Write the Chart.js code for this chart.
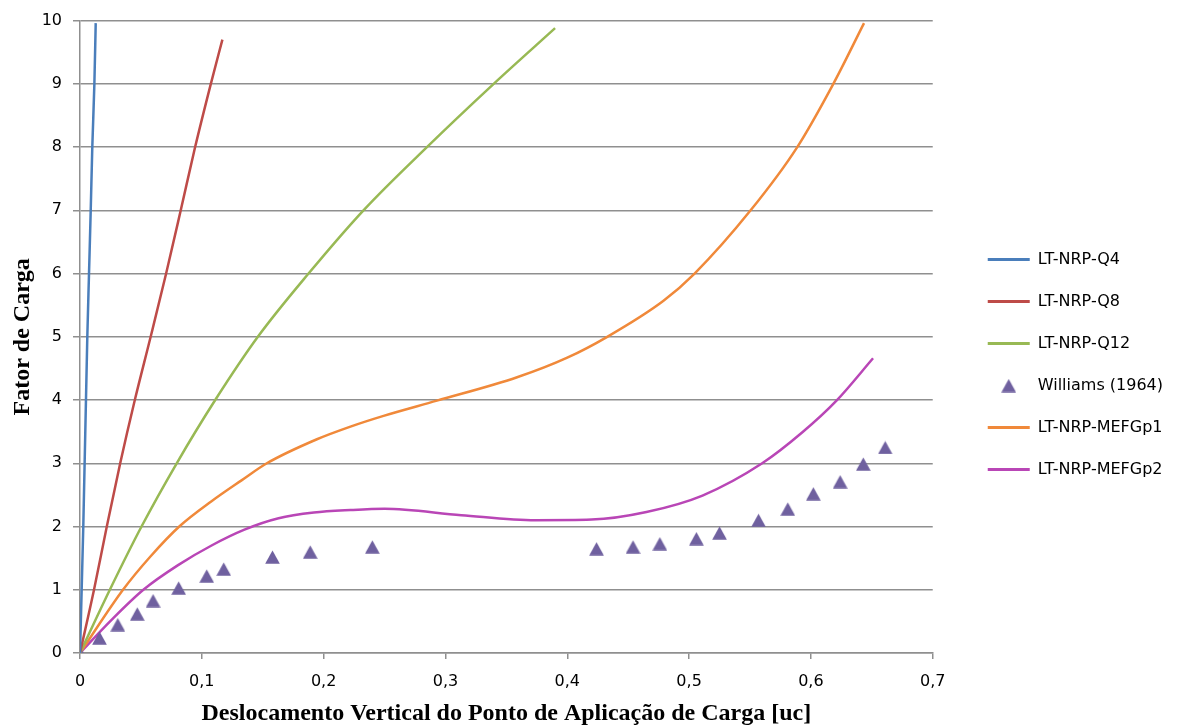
<!DOCTYPE html>
<html lang="pt">
<head>
<meta charset="UTF-8">
<title>Fator de Carga x Deslocamento Vertical</title>
<script src="https://cdn.jsdelivr.net/npm/chart.js"></script>
<style>
  html, body { margin: 0; padding: 0; background: #fff; }
  #wrap { width: 1180px; height: 728px; }
</style>
</head>
<body>
<div id="wrap"><canvas id="chart"></canvas></div>
<script>
// values
const seriesNames = ['LT-NRP-Q4', 'LT-NRP-Q8', 'LT-NRP-Q12', 'Williams (1964)', 'LT-NRP-MEFGp1', 'LT-NRP-MEFGp2'];
const seriesColors = ['#4A7EBB', '#BE4B48', '#98B954', '#6F609F', '#F0893A', '#B946B6'];

const q4X = [0, 0.0027, 0.006, 0.0074, 0.0088, 0.0101, 0.0118, 0.0129];
const q4Y = [0, 2, 5, 6, 7, 8, 9, 9.96];

const q8X = [0, 0.0115, 0.022, 0.033, 0.045, 0.058, 0.0707, 0.0827, 0.0945, 0.1074, 0.1169];
const q8Y = [0, 1, 2, 3, 4, 5, 6, 7, 8, 9, 9.70];

const q12X = [0, 0.0245, 0.0505, 0.0794, 0.111, 0.146, 0.1876, 0.2327, 0.2848, 0.3396, 0.390];
const q12Y = [0, 1, 2, 3, 4, 5, 6, 7, 8, 9, 9.88];

const williamsX = [0, 0.016, 0.031, 0.047, 0.060, 0.081, 0.104, 0.118, 0.158, 0.189, 0.240,
  0.424, 0.454, 0.476, 0.506, 0.525, 0.557, 0.581, 0.602, 0.624, 0.643, 0.661];
const williamsY = [0, 0.24, 0.45, 0.62, 0.83, 1.03, 1.22, 1.33, 1.52, 1.60, 1.68,
  1.65, 1.68, 1.73, 1.81, 1.90, 2.10, 2.28, 2.52, 2.71, 2.99, 3.25];

const p1X = [0, 0.0353, 0.058, 0.0815, 0.108, 0.1326, 0.1534, 0.1945, 0.222, 0.2492, 0.293, 0.3588, 0.40, 0.4328,
  0.479, 0.5045, 0.5505, 0.5888, 0.6184, 0.6436];
const p1Y = [0, 1, 1.53, 2, 2.40, 2.73, 3.0, 3.38, 3.58, 3.75, 3.99, 4.36, 4.67, 5.0,
  5.57, 6, 7, 8, 9, 9.96];

const p2X = [0, 0.0257, 0.052, 0.0805, 0.108, 0.135, 0.163, 0.192, 0.222, 0.25, 0.313, 0.374,
  0.42, 0.465, 0.511, 0.56, 0.593, 0.621, 0.651];
const p2Y = [0, 0.52, 1.0, 1.39, 1.70, 1.95, 2.13, 2.22, 2.26, 2.28, 2.18, 2.10,
  2.11, 2.23, 2.49, 3.0, 3.49, 3.99, 4.66];

const xTickLabels = ['0', '0,1', '0,2', '0,3', '0,4', '0,5', '0,6', '0,7'];
const yTickLabels = ['0', '1', '2', '3', '4', '5', '6', '7', '8', '9', '10'];

const xTitle = 'Deslocamento Vertical do Ponto de Aplicação de Carga [uc]';
const yTitle = 'Fator de Carga';

function pts(xs, ys) {
  return xs.map((x, i) => ({ x: x, y: ys[i] }));
}

function lineSet(i, xs, ys) {
  return {
    label: seriesNames[i],
    data: pts(xs, ys),
    showLine: true,
    borderColor: seriesColors[i],
    backgroundColor: seriesColors[i],
    borderWidth: 2.5,
    pointRadius: 0,
    cubicInterpolationMode: 'monotone'
  };
}

// triangle marker (a bit taller than equilateral, like the original)
const triIcon = document.createElement('canvas');
triIcon.width = 15;
triIcon.height = 14;
(function () {
  const c = triIcon.getContext('2d');
  c.fillStyle = seriesColors[3];
  c.beginPath();
  c.moveTo(7.5, 0.5);
  c.lineTo(14.8, 13.8);
  c.lineTo(0.2, 13.8);
  c.closePath();
  c.fill();
})();

const gridColor = '#8f8f8f';
const tickFont = { family: 'DejaVu Sans', size: 16 };
const titleFont = { family: 'Liberation Serif', size: 24, weight: 'bold' };

new Chart(document.getElementById('chart'), {
  type: 'scatter',
  data: {
    datasets: [
      lineSet(0, q4X, q4Y),
      lineSet(1, q8X, q8Y),
      lineSet(2, q12X, q12Y),
      {
        label: seriesNames[3],
        data: pts(williamsX, williamsY),
        showLine: false,
        pointStyle: triIcon,
        pointRadius: 7,
        borderColor: seriesColors[3],
        backgroundColor: seriesColors[3]
      },
      lineSet(4, p1X, p1Y),
      lineSet(5, p2X, p2Y)
    ]
  },
  options: {
    responsive: true,
    maintainAspectRatio: false,
    animation: false,
    layout: { padding: { top: 19, right: 7, bottom: 18, left: 0 } },
    plugins: {
      tooltip: { enabled: false },
      legend: {
        position: 'right',
        maxWidth: 260,
        labels: {
          usePointStyle: true,
          pointStyleWidth: 42,
          padding: 26,
          color: '#000',
          font: { family: 'DejaVu Sans', size: 16 },
          generateLabels(chart) {
            return chart.data.datasets.map((ds, i) => ({
              text: ds.label,
              datasetIndex: i,
              fillStyle: ds.backgroundColor,
              strokeStyle: ds.borderColor,
              lineWidth: ds.showLine ? 3 : 0,
              pointStyle: ds.showLine ? 'line' : triIcon,
              fontColor: '#000',
              hidden: false
            }));
          }
        }
      }
    },
    scales: {
      x: {
        type: 'linear',
        min: 0,
        max: 0.7,
        afterFit(scale) { scale.height = 57; },
        ticks: {
          stepSize: 0.1,
          padding: 13,
          color: '#000',
          font: tickFont,
          maxRotation: 0,
          callback: v => xTickLabels[Math.round(v * 10)]
        },
        grid: { drawOnChartArea: false, drawTicks: true, tickLength: 6, color: gridColor, lineWidth: 1.5 },
        border: { display: true, color: gridColor, width: 1.5 },
        title: {
          display: true,
          text: xTitle,
          color: '#000',
          font: titleFont,
          padding: { top: 0, bottom: -18 }
        }
      },
      y: {
        type: 'linear',
        min: 0,
        max: 10,
        afterFit(scale) { scale.width = 80; },
        ticks: {
          stepSize: 1,
          padding: 11,
          color: '#000',
          font: tickFont,
          callback: v => yTickLabels[v]
        },
        grid: { drawTicks: true, tickLength: 7, color: gridColor, lineWidth: 1.5 },
        border: { display: true, color: gridColor, width: 1.5 },
        title: {
          display: true,
          text: yTitle,
          color: '#000',
          font: titleFont,
          padding: { top: 8, bottom: 0 }
        }
      },
      gap: {
        type: 'linear',
        position: 'right',
        display: true,
        min: 0,
        max: 1,
        afterFit(scale) { scale.width = 29; },
        ticks: { display: false },
        grid: { display: false },
        border: { display: false }
      }
    }
  }
});
</script>
</body>
</html>
